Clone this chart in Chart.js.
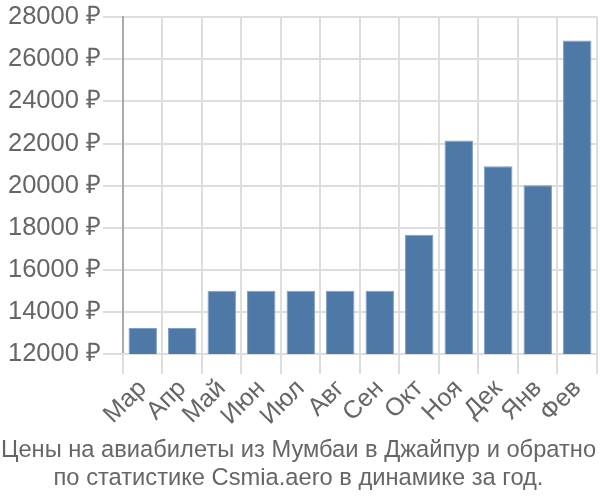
<!DOCTYPE html>
<html>
<head>
<meta charset="utf-8">
<script src="https://cdn.jsdelivr.net/npm/chart.js@4"></script>
<style>
  html, body { margin: 0; padding: 0; background: #fff; }
  #wrap { width: 600px; height: 500px; }
</style>
</head>
<body>
<div id="wrap"><canvas id="graphique"></canvas></div>
<script>
// mois et prix
const mois = ['Мар', 'Апр', 'Май', 'Июн', 'Июл', 'Авг', 'Сен', 'Окт', 'Ноя', 'Дек', 'Янв', 'Фев'];
const prix = [13230, 13230, 15000, 15000, 15000, 15000, 15000, 17660, 22150, 20920, 20020, 26900];
const titreLignes = ['Цены на авиабилеты из Мумбаи в Джайпур и обратно', 'по статистике Csmia.aero в динамике за год.'];

const couleurTexte = '#666666';
const police = 'Liberation Sans, Arial, sans-serif';

const ctx = document.getElementById('graphique').getContext('2d');
const myChart = new Chart(ctx, {
    type: 'bar',
    data: {
        labels: mois,
        datasets: [{
            data: prix,
            backgroundColor: '#4e79a7',
            borderColor: '#7d9fc4',
            borderWidth: 1,
            categoryPercentage: 0.72,
            barPercentage: 1
        }]
    },
    options: {
        responsive: true,
        maintainAspectRatio: false,
        animation: false,
        layout: { padding: { left: 0, right: 3, top: 5, bottom: 0 } },
        plugins: {
            legend: { display: false },
            tooltip: { enabled: false },
            title: {
                display: true,
                position: 'bottom',
                text: titreLignes,
                color: couleurTexte,
                font: { family: police, size: 23.7, weight: 'normal', lineHeight: 1.18 },
                padding: { top: 5, bottom: 8 }
            }
        },
        scales: {
            y: {
                min: 12000,
                max: 28000,
                afterFit: axe => { axe.width += 6; }, // un peu de marge a gauche
                ticks: {
                    stepSize: 2000,
                    color: couleurTexte,
                    padding: 2,
                    font: { family: police, size: 25.5 },
                    callback: v => v + ' ₽'
                },
                grid: { color: '#dddddd', lineWidth: 2, tickLength: 20 },
                border: { color: '#aaaaaa', width: 2 }
            },
            x: {
                ticks: {
                    color: couleurTexte,
                    maxRotation: 45,
                    minRotation: 45,
                    autoSkip: false,
                    padding: 0,
                    font: { family: police, size: 25 }
                },
                grid: { color: '#dddddd', lineWidth: 2, tickLength: 20, offset: true },
                border: { color: '#dddddd', width: 2 }
            }
        }
    }
});
</script>
</body>
</html>
